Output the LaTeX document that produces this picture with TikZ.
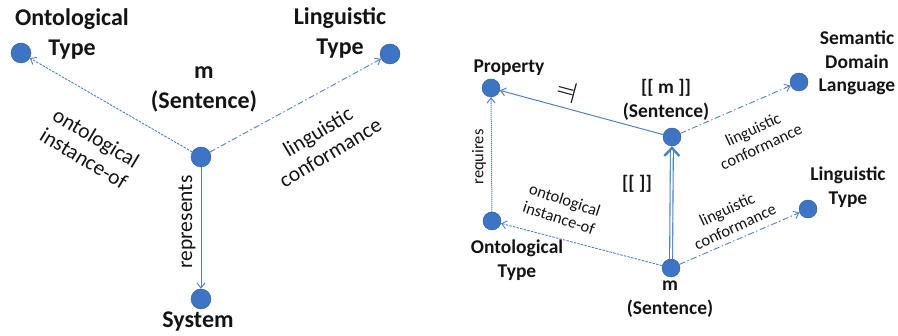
\documentclass[tikz,border=0pt]{standalone}
\usepackage{fontspec}
\usepackage{amssymb}
\setmainfont{Carlito}
\usetikzlibrary{arrows.meta}
\definecolor{dotblue}{RGB}{62,116,196}
\definecolor{lineblue}{RGB}{79,129,189}
\definecolor{txt}{RGB}{20,20,20}
\tikzset{
  pt/.style={circle,fill=dotblue,draw=dotblue!75!black,line width=0.4pt,
             minimum size=20pt,inner sep=0pt},
  ptsmall/.style={pt,minimum size=18pt},
  bigtitle/.style={font=\fontsize{24}{30}\selectfont\bfseries,align=center,
                   inner sep=0pt,text=txt},
  smalltitle/.style={font=\fontsize{19.5}{23.5}\selectfont\bfseries,align=center,
                     inner sep=0pt,text=txt},
  biglabel/.style={font=\fontsize{21.5}{24}\selectfont,align=center,
                   inner sep=0pt,text=txt},
  smalllabel/.style={font=\fontsize{16.5}{19}\selectfont,align=center,
                     inner sep=0pt,text=txt},
  instof/.style={-{Straight Barb[length=5pt,width=8pt]},lineblue,line width=0.9pt,
                 dash pattern=on 2.5pt off 1.2pt},
  conform/.style={-{Straight Barb[length=5pt,width=8pt]},lineblue,line width=0.9pt,
                  dash pattern=on 6pt off 2.5pt on 1.5pt off 2.5pt},
  repr/.style={-{Straight Barb[length=5pt,width=8pt]},lineblue,line width=1pt},
  reqs/.style={-{Straight Barb[length=5pt,width=8pt]},lineblue,line width=1pt,
               dash pattern=on 1.2pt off 0.8pt},
  interp/.style={-{Straight Barb[length=8pt,width=15pt,line width=2.4pt]},lineblue,
                 line width=1.1pt,double,double distance=1.8pt},
}

\begin{document}
\begin{tikzpicture}[x=1pt,y=-1pt]
  \useasboundingbox (0,0) rectangle (898,336);
  % left picture
  \node[pt] (ot)  at (21,53)   {};
  \node[pt] (lt)  at (390,54)  {};
  \node[pt] (m)   at (201,157) {};
  \node[pt] (sys) at (201,299) {};
  \node[bigtitle] (otname)  at (72,34)   {Ontological\\Type};
  \node[bigtitle] (ltname)  at (340,33)  {Linguistic\\Type};
  \node[bigtitle] (mname)   at (204,89)  {m\\(Sentence)};
  \node[bigtitle] (sysname) at (198,322) {System};
  \draw[instof]  (m) -- (ot);
  \draw[conform] (m) -- (lt);
  \draw[repr]    (m) -- (sys);
  \node[biglabel,rotate=-31] (instlbl) at (90,148)  {ontological\\instance-of};
  \node[biglabel,rotate=31]  (conflbl) at (324,142) {linguistic\\conformance};
  \node[biglabel,rotate=90]  (reprlbl) at (187,222) {represents};

  % right picture
  \node[ptsmall] (prop) at (491,88)  {};
  \node[ptsmall] (sm)   at (672,137) {};
  \node[ptsmall] (sdl)  at (799,82)  {};
  \node[ptsmall] (rot)  at (492,221) {};
  \node[ptsmall] (rm)   at (671,268) {};
  \node[ptsmall] (rlt)  at (808,209) {};
  \node[smalltitle] (propname) at (509,68)  {Property};
  \node[smalltitle] (smname)   at (666,100) {[[ m ]]\\(Sentence)};
  \node[smalltitle] (sdlname)  at (857,63)  {Semantic\\Domain\\Language};
  \node[smalltitle] (rotname)  at (517,260) {Ontological\\Type};
  \node[smalltitle] (rmname)   at (670,299) {m\\(Sentence)};
  \node[smalltitle] (rltname)  at (848,187) {Linguistic\\Type};
  \node[smalltitle] (semlbl)   at (637,184) {[[ ]]};
  \draw[repr]    (sm) -- (prop);
  \draw[reqs]    (rot) -- (prop);
  \draw[instof]  (rm) -- (rot);
  \draw[interp]  (rm) -- (sm);
  \draw[conform] (sm) -- (sdl);
  \draw[conform] (rm) -- (rlt);
  \node[font=\fontsize{20}{20}\selectfont\boldmath,rotate=165,text=txt,inner sep=0pt]
        (notmod) at (567,92) {$\models$};
  \node[smalllabel,rotate=90]  (reqlbl)   at (479,157) {requires};
  \node[smalllabel,rotate=-18] (rinstlbl) at (562,209) {ontological\\instance-of};
  \node[smalllabel,rotate=25]  (uconflbl) at (757,138) {linguistic\\conformance};
  \node[smalllabel,rotate=25]  (lconflbl) at (731,218) {linguistic\\conformance};
\end{tikzpicture}
\end{document}
